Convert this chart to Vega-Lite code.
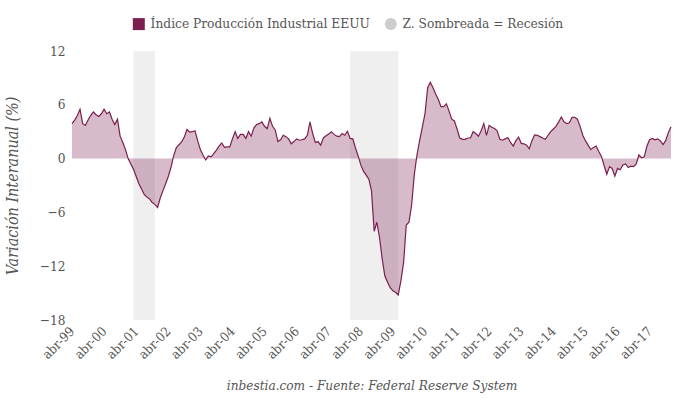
{
  "$schema": "https://vega.github.io/schema/vega-lite/v6.json",
  "width": 599,
  "height": 269,
  "autosize": {"type": "none"},
  "padding": {"left": 72, "top": 51, "right": 9, "bottom": 79},
  "background": "white",
  "config": {
    "view": {"stroke": null},
    "font": "DejaVu Serif Condensed",
    "axis": {"grid": false, "labelFont": "DejaVu Serif Condensed", "titleFont": "DejaVu Serif Condensed"},
    "legend": {"labelFont": "DejaVu Serif Condensed", "labelLimit": 0}
  },
  "datasets": {
    "rec": [
      {"inicio": "2001-03-01", "fin": "2001-11-01", "serie": "Z. Sombreada = Recesión"},
      {"inicio": "2007-12-01", "fin": "2009-06-01", "serie": "Z. Sombreada = Recesión"}
    ],
    "ip": [
      {"fecha": "1999-04-01", "valor": 3.9}, {"fecha": "1999-05-01", "valor": 4.3}, {"fecha": "1999-06-01", "valor": 4.8},
      {"fecha": "1999-07-01", "valor": 5.5}, {"fecha": "1999-08-01", "valor": 3.9}, {"fecha": "1999-09-01", "valor": 3.7},
      {"fecha": "1999-10-01", "valor": 4.3}, {"fecha": "1999-11-01", "valor": 4.8}, {"fecha": "1999-12-01", "valor": 5.2},
      {"fecha": "2000-01-01", "valor": 4.9}, {"fecha": "2000-02-01", "valor": 4.7}, {"fecha": "2000-03-01", "valor": 5.0},
      {"fecha": "2000-04-01", "valor": 5.5}, {"fecha": "2000-05-01", "valor": 5.0}, {"fecha": "2000-06-01", "valor": 5.2},
      {"fecha": "2000-07-01", "valor": 4.4}, {"fecha": "2000-08-01", "valor": 3.8}, {"fecha": "2000-09-01", "valor": 4.4},
      {"fecha": "2000-10-01", "valor": 2.5}, {"fecha": "2000-11-01", "valor": 1.8}, {"fecha": "2000-12-01", "valor": 1.0},
      {"fecha": "2001-01-01", "valor": 0.0}, {"fecha": "2001-02-01", "valor": -0.6}, {"fecha": "2001-03-01", "valor": -1.2},
      {"fecha": "2001-04-01", "valor": -2.0}, {"fecha": "2001-05-01", "valor": -2.8}, {"fecha": "2001-06-01", "valor": -3.4},
      {"fecha": "2001-07-01", "valor": -4.0}, {"fecha": "2001-08-01", "valor": -4.3}, {"fecha": "2001-09-01", "valor": -4.5},
      {"fecha": "2001-10-01", "valor": -4.9}, {"fecha": "2001-11-01", "valor": -5.1}, {"fecha": "2001-12-01", "valor": -5.45},
      {"fecha": "2002-01-01", "valor": -4.4}, {"fecha": "2002-02-01", "valor": -3.6}, {"fecha": "2002-03-01", "valor": -2.8},
      {"fecha": "2002-04-01", "valor": -2.0}, {"fecha": "2002-05-01", "valor": -1.0}, {"fecha": "2002-06-01", "valor": 0.3},
      {"fecha": "2002-07-01", "valor": 1.2}, {"fecha": "2002-08-01", "valor": 1.55}, {"fecha": "2002-09-01", "valor": 1.85},
      {"fecha": "2002-10-01", "valor": 2.4}, {"fecha": "2002-11-01", "valor": 3.25}, {"fecha": "2002-12-01", "valor": 2.95},
      {"fecha": "2003-01-01", "valor": 3.0}, {"fecha": "2003-02-01", "valor": 3.1}, {"fecha": "2003-03-01", "valor": 2.0},
      {"fecha": "2003-04-01", "valor": 1.0}, {"fecha": "2003-05-01", "valor": 0.4}, {"fecha": "2003-06-01", "valor": -0.15},
      {"fecha": "2003-07-01", "valor": 0.3}, {"fecha": "2003-08-01", "valor": 0.2}, {"fecha": "2003-09-01", "valor": 0.55},
      {"fecha": "2003-10-01", "valor": 0.95}, {"fecha": "2003-11-01", "valor": 1.4}, {"fecha": "2003-12-01", "valor": 1.75},
      {"fecha": "2004-01-01", "valor": 1.25}, {"fecha": "2004-02-01", "valor": 1.3}, {"fecha": "2004-03-01", "valor": 1.3},
      {"fecha": "2004-04-01", "valor": 2.2}, {"fecha": "2004-05-01", "valor": 3.0}, {"fecha": "2004-06-01", "valor": 2.25},
      {"fecha": "2004-07-01", "valor": 2.7}, {"fecha": "2004-08-01", "valor": 2.7}, {"fecha": "2004-09-01", "valor": 2.25},
      {"fecha": "2004-10-01", "valor": 3.0}, {"fecha": "2004-11-01", "valor": 2.5}, {"fecha": "2004-12-01", "valor": 3.4},
      {"fecha": "2005-01-01", "valor": 3.8}, {"fecha": "2005-02-01", "valor": 3.9}, {"fecha": "2005-03-01", "valor": 4.1},
      {"fecha": "2005-04-01", "valor": 3.6}, {"fecha": "2005-05-01", "valor": 3.35}, {"fecha": "2005-06-01", "valor": 4.5},
      {"fecha": "2005-07-01", "valor": 3.6}, {"fecha": "2005-08-01", "valor": 3.2}, {"fecha": "2005-09-01", "valor": 1.9},
      {"fecha": "2005-10-01", "valor": 2.1}, {"fecha": "2005-11-01", "valor": 2.6}, {"fecha": "2005-12-01", "valor": 2.45},
      {"fecha": "2006-01-01", "valor": 2.2}, {"fecha": "2006-02-01", "valor": 1.65}, {"fecha": "2006-03-01", "valor": 1.9},
      {"fecha": "2006-04-01", "valor": 2.2}, {"fecha": "2006-05-01", "valor": 2.05}, {"fecha": "2006-06-01", "valor": 2.1},
      {"fecha": "2006-07-01", "valor": 2.2}, {"fecha": "2006-08-01", "valor": 2.6}, {"fecha": "2006-09-01", "valor": 4.1},
      {"fecha": "2006-10-01", "valor": 2.8}, {"fecha": "2006-11-01", "valor": 1.8}, {"fecha": "2006-12-01", "valor": 1.9},
      {"fecha": "2007-01-01", "valor": 1.5}, {"fecha": "2007-02-01", "valor": 2.3}, {"fecha": "2007-03-01", "valor": 2.55},
      {"fecha": "2007-04-01", "valor": 2.75}, {"fecha": "2007-05-01", "valor": 3.0}, {"fecha": "2007-06-01", "valor": 2.7},
      {"fecha": "2007-07-01", "valor": 2.5}, {"fecha": "2007-08-01", "valor": 2.45}, {"fecha": "2007-09-01", "valor": 2.8},
      {"fecha": "2007-10-01", "valor": 2.6}, {"fecha": "2007-11-01", "valor": 3.05}, {"fecha": "2007-12-01", "valor": 2.25},
      {"fecha": "2008-01-01", "valor": 2.2}, {"fecha": "2008-02-01", "valor": 1.2}, {"fecha": "2008-03-01", "valor": 0.3},
      {"fecha": "2008-04-01", "valor": -0.7}, {"fecha": "2008-05-01", "valor": -1.4}, {"fecha": "2008-06-01", "valor": -1.85},
      {"fecha": "2008-07-01", "valor": -2.3}, {"fecha": "2008-08-01", "valor": -3.6}, {"fecha": "2008-09-01", "valor": -8.1},
      {"fecha": "2008-10-01", "valor": -7.1}, {"fecha": "2008-11-01", "valor": -8.8}, {"fecha": "2008-12-01", "valor": -11.2},
      {"fecha": "2009-01-01", "valor": -13.1}, {"fecha": "2009-02-01", "valor": -13.8}, {"fecha": "2009-03-01", "valor": -14.4},
      {"fecha": "2009-04-01", "valor": -14.75}, {"fecha": "2009-05-01", "valor": -14.9}, {"fecha": "2009-06-01", "valor": -15.2},
      {"fecha": "2009-07-01", "valor": -13.6}, {"fecha": "2009-08-01", "valor": -11.6}, {"fecha": "2009-09-01", "valor": -7.4},
      {"fecha": "2009-10-01", "valor": -7.1}, {"fecha": "2009-11-01", "valor": -5.2}, {"fecha": "2009-12-01", "valor": -1.8},
      {"fecha": "2010-01-01", "valor": 0.4}, {"fecha": "2010-02-01", "valor": 2.0}, {"fecha": "2010-03-01", "valor": 3.5},
      {"fecha": "2010-04-01", "valor": 5.0}, {"fecha": "2010-05-01", "valor": 7.9}, {"fecha": "2010-06-01", "valor": 8.5},
      {"fecha": "2010-07-01", "valor": 7.9}, {"fecha": "2010-08-01", "valor": 7.2}, {"fecha": "2010-09-01", "valor": 6.6},
      {"fecha": "2010-10-01", "valor": 5.8}, {"fecha": "2010-11-01", "valor": 5.8}, {"fecha": "2010-12-01", "valor": 6.1},
      {"fecha": "2011-01-01", "valor": 5.3}, {"fecha": "2011-02-01", "valor": 4.4}, {"fecha": "2011-03-01", "valor": 4.2},
      {"fecha": "2011-04-01", "valor": 3.3}, {"fecha": "2011-05-01", "valor": 2.3}, {"fecha": "2011-06-01", "valor": 2.15},
      {"fecha": "2011-07-01", "valor": 2.15}, {"fecha": "2011-08-01", "valor": 2.3}, {"fecha": "2011-09-01", "valor": 2.3},
      {"fecha": "2011-10-01", "valor": 3.0}, {"fecha": "2011-11-01", "valor": 2.8}, {"fecha": "2011-12-01", "valor": 2.5},
      {"fecha": "2012-01-01", "valor": 3.1}, {"fecha": "2012-02-01", "valor": 3.9}, {"fecha": "2012-03-01", "valor": 2.6},
      {"fecha": "2012-04-01", "valor": 3.7}, {"fecha": "2012-05-01", "valor": 3.5}, {"fecha": "2012-06-01", "valor": 3.35},
      {"fecha": "2012-07-01", "valor": 3.1}, {"fecha": "2012-08-01", "valor": 2.15}, {"fecha": "2012-09-01", "valor": 2.05},
      {"fecha": "2012-10-01", "valor": 2.2}, {"fecha": "2012-11-01", "valor": 2.35}, {"fecha": "2012-12-01", "valor": 1.8},
      {"fecha": "2013-01-01", "valor": 1.4}, {"fecha": "2013-02-01", "valor": 2.0}, {"fecha": "2013-03-01", "valor": 2.4},
      {"fecha": "2013-04-01", "valor": 1.7}, {"fecha": "2013-05-01", "valor": 1.65}, {"fecha": "2013-06-01", "valor": 1.5},
      {"fecha": "2013-07-01", "valor": 1.1}, {"fecha": "2013-08-01", "valor": 2.0}, {"fecha": "2013-09-01", "valor": 2.65},
      {"fecha": "2013-10-01", "valor": 2.6}, {"fecha": "2013-11-01", "valor": 2.45}, {"fecha": "2013-12-01", "valor": 2.3},
      {"fecha": "2014-01-01", "valor": 2.15}, {"fecha": "2014-02-01", "valor": 2.6}, {"fecha": "2014-03-01", "valor": 3.0},
      {"fecha": "2014-04-01", "valor": 3.3}, {"fecha": "2014-05-01", "valor": 3.6}, {"fecha": "2014-06-01", "valor": 4.1},
      {"fecha": "2014-07-01", "valor": 4.65}, {"fecha": "2014-08-01", "valor": 4.1}, {"fecha": "2014-09-01", "valor": 3.9},
      {"fecha": "2014-10-01", "valor": 4.0}, {"fecha": "2014-11-01", "valor": 4.6}, {"fecha": "2014-12-01", "valor": 4.6},
      {"fecha": "2015-01-01", "valor": 4.4}, {"fecha": "2015-02-01", "valor": 3.6}, {"fecha": "2015-03-01", "valor": 2.6},
      {"fecha": "2015-04-01", "valor": 2.0}, {"fecha": "2015-05-01", "valor": 1.5}, {"fecha": "2015-06-01", "valor": 1.0},
      {"fecha": "2015-07-01", "valor": 1.25}, {"fecha": "2015-08-01", "valor": 1.4}, {"fecha": "2015-09-01", "valor": 0.8},
      {"fecha": "2015-10-01", "valor": 0.25}, {"fecha": "2015-11-01", "valor": -0.8}, {"fecha": "2015-12-01", "valor": -1.75},
      {"fecha": "2016-01-01", "valor": -0.9}, {"fecha": "2016-02-01", "valor": -1.1}, {"fecha": "2016-03-01", "valor": -1.95},
      {"fecha": "2016-04-01", "valor": -1.1}, {"fecha": "2016-05-01", "valor": -1.25}, {"fecha": "2016-06-01", "valor": -0.7},
      {"fecha": "2016-07-01", "valor": -0.6}, {"fecha": "2016-08-01", "valor": -1.0}, {"fecha": "2016-09-01", "valor": -0.85},
      {"fecha": "2016-10-01", "valor": -0.9}, {"fecha": "2016-11-01", "valor": -0.6}, {"fecha": "2016-12-01", "valor": 0.4},
      {"fecha": "2017-01-01", "valor": 0.1}, {"fecha": "2017-02-01", "valor": 0.2}, {"fecha": "2017-03-01", "valor": 1.4},
      {"fecha": "2017-04-01", "valor": 2.1}, {"fecha": "2017-05-01", "valor": 2.25}, {"fecha": "2017-06-01", "valor": 2.1},
      {"fecha": "2017-07-01", "valor": 2.2}, {"fecha": "2017-08-01", "valor": 2.0}, {"fecha": "2017-09-01", "valor": 1.55},
      {"fecha": "2017-10-01", "valor": 2.0}, {"fecha": "2017-11-01", "valor": 2.9}, {"fecha": "2017-12-01", "valor": 3.55}
    ]
  },
  "layer": [
    {
      "data": {"name": "rec"},
      "mark": {"type": "rect", "opacity": 0.32},
      "encoding": {
        "x": {"field": "inicio", "type": "ordinal", "scale": {"type": "point", "padding": 0}},
        "x2": {"field": "fin"},
        "color": {
          "field": "serie", "type": "nominal",
          "scale": {"domain": ["Índice Producción Industrial EEUU", "Z. Sombreada = Recesión"], "range": ["#7b1f4e", "#cccccc"]},
          "legend": {
            "orient": "none", "legendX": 60, "legendY": -34, "direction": "horizontal",
            "title": null, "labelFontSize": 13.6, "labelColor": "#555555",
            "symbolSize": 144, "symbolOpacity": 1, "symbolStrokeWidth": 0, "labelOffset": 5, "columnPadding": 14,
            "encode": {"symbols": {"update": {
              "shape": {"signal": "datum.value === 'Z. Sombreada = Recesión' ? 'circle' : 'square'"},
              "opacity": {"value": 1}, "fillOpacity": {"value": 1}
            }}}
          }
        }
      }
    },
    {
      "data": {"name": "ip"},
      "mark": {"type": "area", "opacity": 0.3},
      "encoding": {
        "x": {
          "field": "fecha", "type": "ordinal",
          "axis": {
            "values": ["1999-04-01", "2000-04-01", "2001-04-01", "2002-04-01", "2003-04-01", "2004-04-01", "2005-04-01",
                       "2006-04-01", "2007-04-01", "2008-04-01", "2009-04-01", "2010-04-01", "2011-04-01", "2012-04-01",
                       "2013-04-01", "2014-04-01", "2015-04-01", "2016-04-01", "2017-04-01"],
            "labelExpr": "'abr-' + slice(datum.value, 2, 4)",
            "labelOverlap": false,
            "labelBound": false,
            "labelFlush": false,
            "labelAngle": -45,
            "labelPadding": 9,
            "labelFontSize": 13,
            "labelColor": "#555555",
            "domain": false,
            "ticks": false,
            "title": "inbestia.com - Fuente: Federal Reserve System",
            "titleFontStyle": "italic",
            "titleFontWeight": "normal",
            "titleFontSize": 13.5,
            "titleColor": "#555555",
            "titlePadding": 17
          }
        },
        "y": {
          "field": "valor", "type": "quantitative",
          "scale": {"domain": [-18, 12], "nice": false, "zero": false},
          "axis": {
            "values": [-18, -12, -6, 0, 6, 12],
            "title": "Variación Interanual (%)",
            "titleFontStyle": "italic", "titleFontWeight": "normal", "titleFontSize": 16, "titleColor": "#555555",
            "titlePadding": 19,
            "labelFontSize": 13.5, "labelColor": "#555555", "labelPadding": 7,
            "domain": false, "ticks": false
          }
        },
        "color": {"datum": "Índice Producción Industrial EEUU", "type": "nominal"}
      }
    },
    {
      "data": {"name": "ip"},
      "mark": {"type": "line", "color": "#7b1f4e", "strokeWidth": 1.2},
      "encoding": {
        "x": {"field": "fecha", "type": "ordinal"},
        "y": {"field": "valor", "type": "quantitative"}
      }
    },
    {
      "mark": {"type": "rule", "color": "#777777", "strokeWidth": 1.5},
      "encoding": {"y": {"datum": 0, "type": "quantitative"}}
    }
  ]
}
